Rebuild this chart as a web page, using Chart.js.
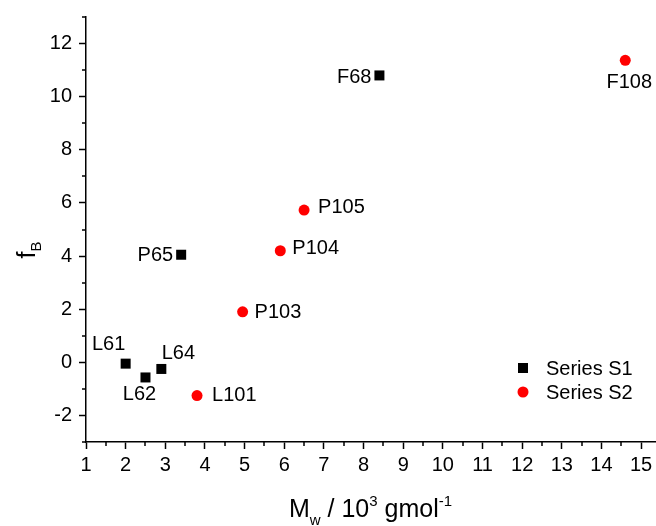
<!DOCTYPE html>
<html>
<head>
<meta charset="utf-8">
<script src="https://cdn.jsdelivr.net/npm/chart.js@4/dist/chart.umd.min.js"></script>
<style>
  html, body { margin: 0; padding: 0; background: #fff; }
  #wrap { width: 656px; height: 526px; }
</style>
</head>
<body>
<div id="wrap"><canvas id="c" width="656" height="526"></canvas></div>
<script>
// Sample data: weight-average molar mass (10^3 g/mol) vs. f_B
const s1Names = ['L61', 'L62', 'L64', 'P65', 'F68'];
const s1Mw    = [2.0, 2.5, 2.9, 3.4, 8.4];
const s1fB    = [-0.05, -0.57, -0.25, 4.05, 10.8];

const s2Names = ['L101', 'P103', 'P104', 'P105', 'F108'];
const s2Mw    = [3.8, 4.95, 5.9, 6.5, 14.6];
const s2fB    = [-1.25, 1.9, 4.2, 5.73, 11.37];

const seriesNames = ['Series S1', 'Series S2'];

const xTicks = [1, 2, 3, 4, 5, 6, 7, 8, 9, 10, 11, 12, 13, 14, 15];
const yTicks = [-2, 0, 2, 4, 6, 8, 10, 12];
const xMinorTicks = [1.5, 2.5, 3.5, 4.5, 5.5, 6.5, 7.5, 8.5, 9.5, 10.5, 11.5, 12.5, 13.5, 14.5];
const yMinorTicks = [-3, -1, 1, 3, 5, 7, 9, 11, 13];

// Where each point's name sits relative to its marker: [dx, dy, align]
const s1LabelPlace = [[-17, -21, 'center'], [-6, 15, 'center'], [17, -17, 'center'], [-8, -1, 'right'], [-8, 0, 'right']];
const s2LabelPlace = [[15, -2, 'left'], [12, -1, 'left'], [12, -4, 'left'], [14, -4, 'left'], [4, 21, 'center']];

const FONT = '"Liberation Sans", Arial, sans-serif';
const SMALL = 20;
const TITLE = 25;
const SUB = 15;

function pts(xs, ys) { return xs.map((x, i) => ({ x: x, y: ys[i] })); }

const annotate = {
  id: 'annotate',
  afterDraw(chart) {
    const ctx = chart.ctx;
    const xs = chart.scales.x, ys = chart.scales.y;
    const area = chart.chartArea;
    ctx.save();

    // minor ticks
    ctx.strokeStyle = '#000';
    ctx.lineWidth = 1.5;
    ctx.beginPath();
    xMinorTicks.forEach(v => {
      const px = Math.round(xs.getPixelForValue(v));
      ctx.moveTo(px, area.bottom);
      ctx.lineTo(px, area.bottom + 4);
    });
    yMinorTicks.forEach(v => {
      const py = Math.round(ys.getPixelForValue(v));
      ctx.moveTo(area.left, py);
      ctx.lineTo(area.left - 4, py);
    });
    ctx.stroke();

    // point names
    ctx.fillStyle = '#000';
    ctx.font = SMALL + 'px ' + FONT;
    ctx.textBaseline = 'alphabetic';
    const drawNames = (dsIndex, names, place) => {
      const meta = chart.getDatasetMeta(dsIndex);
      meta.data.forEach((el, i) => {
        const p = place[i];
        ctx.textAlign = p[2];
        ctx.fillText(names[i], el.x + p[0], el.y + p[1] + SMALL * 0.358);
      });
    };
    drawNames(0, s1Names, s1LabelPlace);
    drawNames(1, s2Names, s2LabelPlace);

    // legend
    const lx = area.left + 437, ly = area.top + 351, lgap = 24;
    chart.data.datasets.forEach((ds, i) => {
      const y = ly + i * lgap;
      ctx.fillStyle = ds.backgroundColor;
      ctx.strokeStyle = ds.backgroundColor;
      Chart.helpers.drawPoint(ctx, { pointStyle: ds.pointStyle, radius: ds.pointRadius, rotation: 0, borderWidth: 0 }, lx, y);
      ctx.fillStyle = '#000';
      ctx.textAlign = 'left';
      ctx.fillText(seriesNames[i], lx + 23, y + SMALL * 0.358);
    });

    // rich-text axis titles
    const runs = (parts) => parts.map(p => {
      ctx.font = p[1] + 'px ' + FONT;
      return { t: p[0], size: p[1], dy: p[2], w: ctx.measureText(p[0]).width };
    });
    const drawRuns = (list, x0, base) => {
      let x = x0;
      list.forEach(r => {
        ctx.font = r.size + 'px ' + FONT;
        ctx.textAlign = 'left';
        ctx.fillText(r.t, x, base + r.dy);
        x += r.w;
      });
    };
    ctx.fillStyle = '#000';
    const xt = runs([['M', TITLE, 0], ['w', SUB, 8], [' / 10', TITLE, 0], ['3', SUB, -11], [' gmol', TITLE, 0], ['-1', SUB, -11]]);
    const xw = xt.reduce((a, r) => a + r.w, 0);
    drawRuns(xt, (area.left + area.right) / 2 - xw / 2, 517);

    const yt = runs([['f', TITLE, 0], ['B', SUB, 6]]);
    const yw = yt.reduce((a, r) => a + r.w, 0);
    ctx.save();
    ctx.translate(35, 250);
    ctx.rotate(-Math.PI / 2);
    drawRuns(yt, -yw / 2, 0);
    ctx.restore();

    ctx.restore();
  }
};

const axisCommon = {
  type: 'linear',
  border: { display: true, color: '#000', width: 1.5 },
  grid: { display: true, drawOnChartArea: false, drawTicks: true, tickLength: 7, tickColor: '#000', tickWidth: 1.5, color: '#000' },
  ticks: { color: '#000', font: { family: FONT, size: SMALL }, autoSkip: false, maxRotation: 0, includeBounds: false }
};

new Chart(document.getElementById('c'), {
  type: 'scatter',
  data: {
    datasets: [
      { label: seriesNames[0], data: pts(s1Mw, s1fB), pointStyle: 'rect', pointRadius: 7.07, pointHoverRadius: 7.07, backgroundColor: '#000000', borderColor: '#000000', borderWidth: 0 },
      { label: seriesNames[1], data: pts(s2Mw, s2fB), pointStyle: 'circle', pointRadius: 5.5, pointHoverRadius: 5.5, backgroundColor: '#ff0000', borderColor: '#ff0000', borderWidth: 0 }
    ]
  },
  options: {
    responsive: false,
    devicePixelRatio: 1,
    animation: false,
    layout: { autoPadding: false, padding: { top: 17, right: 1, left: 0, bottom: 0 } },
    plugins: { legend: { display: false }, tooltip: { enabled: false }, title: { display: false } },
    scales: {
      x: Object.assign({}, axisCommon, {
        position: 'bottom', min: 1, max: 15.35,
        ticks: Object.assign({}, axisCommon.ticks, { padding: 4 }),
        afterBuildTicks: s => { s.ticks = xTicks.map(v => ({ value: v })); },
        afterFit: s => { s.height = 84; s.paddingLeft = 0; s.paddingRight = 0; }
      }),
      y: Object.assign({}, axisCommon, {
        position: 'left', min: -3, max: 13,
        ticks: Object.assign({}, axisCommon.ticks, { padding: 7 }),
        afterBuildTicks: s => { s.ticks = yTicks.map(v => ({ value: v })); },
        afterFit: s => { s.width = 86; s.paddingTop = 0; s.paddingBottom = 0; }
      })
    }
  },
  plugins: [annotate]
});
</script>
</body>
</html>
